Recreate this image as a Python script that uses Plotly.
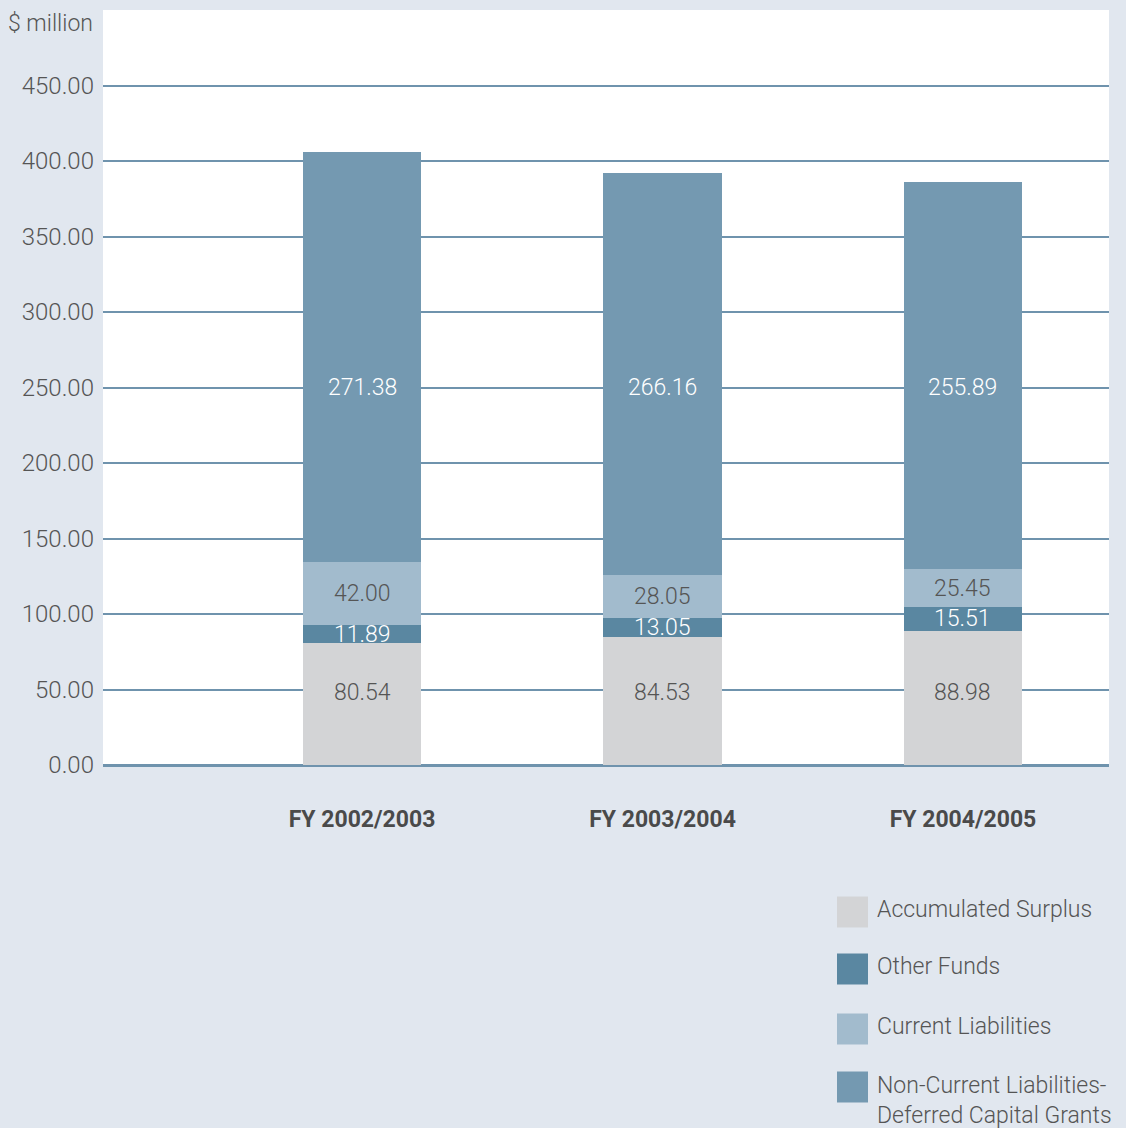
import plotly.graph_objects as go

categories = ["FY 2002/2003", "FY 2003/2004", "FY 2004/2005"]
accumulated_surplus = [80.54, 84.53, 88.98]
other_funds = [11.89, 13.05, 15.51]
current_liabilities = [42.00, 28.05, 25.45]
non_current_liabilities = [271.38, 266.16, 255.89]
y_ticks = [0, 50, 100, 150, 200, 250, 300, 350, 400, 450]

series = [
    ("Accumulated Surplus", accumulated_surplus, "#d3d4d6", "#555555"),
    ("Other Funds", other_funds, "#5a87a1", "#ffffff"),
    ("Current Liabilities", current_liabilities, "#a2bbcd", "#555555"),
    ("Non-Current Liabilities-<br>Deferred Capital Grants", non_current_liabilities, "#7499b1", "#ffffff"),
]

FONT = "Helvetica Neue, Roboto, Arial, sans-serif"
fig = go.Figure()
for name, vals, color, _ in series:
    fig.add_trace(go.Bar(x=categories, y=vals, name=name, marker=dict(color=color, line=dict(width=0)),
                         width=0.393, showlegend=False, hoverinfo="x+y+name"))

W, H = 1126, 1128
L, R, T, B = 103, 1109, 10, 765
def px(x):
    return (x - L) / (R - L)
def py(y):
    return (B - y) / (B - T)

# value labels
annotations = []
base = [0.0] * len(categories)
for i, (name, vals, color, tcolor) in enumerate(series):
    for j, v in enumerate(vals):
        if i == 0:
            yv = 48
        elif i == 3:
            yv = 250
        else:
            yv = base[j] + v / 2
        annotations.append(dict(x=categories[j], y=yv, xref="x", yref="y", text=f"{v:.2f}", showarrow=False,
                                font=dict(family=FONT, size=23, color=tcolor, weight=300)))
        base[j] += v

annotations.append(dict(x=px(95), y=py(23), xref="paper", yref="paper", text="$ million", showarrow=False,
                        xanchor="right", yanchor="middle", font=dict(family=FONT, size=23, color="#555555", weight=300)))

shapes = []
leg_y = [912, 969, 1029, 1087]
for (name, vals, color, _), yc in zip(series, leg_y):
    shapes.append(dict(type="rect", xref="paper", yref="paper", x0=px(837), x1=px(868),
                       y0=py(yc + 15.5), y1=py(yc - 15.5), fillcolor=color, line=dict(width=0), layer="above"))
    ytext = yc - 3 if "<br>" not in name else yc + 13
    annotations.append(dict(x=px(875), y=py(ytext), xref="paper", yref="paper", text=name, showarrow=False,
                            xanchor="left", yanchor="middle", align="left",
                            font=dict(family=FONT, size=23, color="#555555", weight=300)))

fig.update_layout(
    width=W, height=H,
    margin=dict(l=L, r=W - R, t=T, b=H - B, pad=0),
    paper_bgcolor="#e1e7ef", plot_bgcolor="#ffffff",
    barmode="stack", bargap=0,
    annotations=annotations, shapes=shapes,
    font=dict(family=FONT, color="#555555"),
    xaxis=dict(type="category", range=[-0.862, 2.486], showgrid=False, showline=False, zeroline=False,
               ticks="", tickfont=dict(family=FONT, size=23, color="#4a4a4a", weight="bold"),
               ticklabelstandoff=38, fixedrange=True),
    yaxis=dict(range=[0, 500], tickvals=y_ticks, tickformat=".2f", showgrid=True, gridcolor="#6f93ad",
               gridwidth=2, zeroline=True, zerolinecolor="#6f93ad", zerolinewidth=3, showline=False,
               ticks="", tickfont=dict(family=FONT, size=24, color="#555555", weight=300),
               ticklabelstandoff=8, fixedrange=True),
    showlegend=False,
)

fig.write_html("out.html", config={"displayModeBar": False},
               post_script="document.body.style.margin='0';document.body.style.overflow='hidden';")
